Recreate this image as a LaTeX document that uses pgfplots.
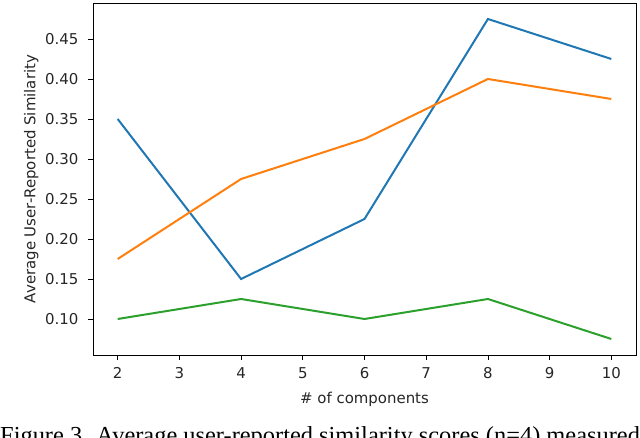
\documentclass[border=0pt]{standalone}
\usepackage{pgfplots}
\pgfplotsset{compat=1.18}
\usepackage{fontspec}
\setmainfont{DejaVu Sans}
\newfontfamily\capfont{Liberation Serif}

\definecolor{mplblue}{HTML}{1F77B4}
\definecolor{mplorange}{HTML}{FF7F0E}
\definecolor{mplgreen}{HTML}{2CA02C}

\begin{document}
\begin{tikzpicture}[x=1bp,y=1bp]
  \clip (0,0) rectangle (640,438);
  \begin{axis}[
      at={(93bp,83bp)}, anchor=south west,
      scale only axis, width=543bp, height=352bp,
      xmin=1.6, xmax=10.4, ymin=0.055, ymax=0.495,
      xtick={2,...,10},
      ytick={0.10,0.15,0.20,0.25,0.30,0.35,0.40,0.45},
      yticklabel style={xshift=-6bp, /pgf/number format/.cd, fixed, fixed zerofill, precision=2},
      xticklabel style={yshift=-4bp},
      /pgf/number format/assume math mode=true,
      tick align=outside, tick pos=left,
      major tick length=5bp,
      every tick/.style={black, line width=0.8bp},
      axis line style={line width=0.8bp},
      tick label style={font=\fontsize{15}{18}\selectfont, text=black!85},
      label style={font=\fontsize{15}{18}\selectfont, text=black!85},
      xlabel={\# of components},
      xlabel style={yshift=-6bp},
      ylabel={Average User-Reported Similarity},
      every axis plot/.append style={line width=2bp, mark=none},
    ]
    \addplot[mplblue] coordinates {(2,0.35) (4,0.15) (6,0.225) (8,0.475) (10,0.425)};
    \addplot[mplorange] coordinates {(2,0.175) (4,0.275) (6,0.325) (8,0.40) (10,0.375)};
    \addplot[mplgreen] coordinates {(2,0.10) (4,0.125) (6,0.10) (8,0.125) (10,0.075)};
  \end{axis}
  \node[anchor=base west, inner sep=0pt, font=\capfont\fontsize{24.5}{28}\selectfont]
    at (0,-6) {Figure 3. Average user-reported similarity scores (n=4) measured};
\end{tikzpicture}
\end{document}
